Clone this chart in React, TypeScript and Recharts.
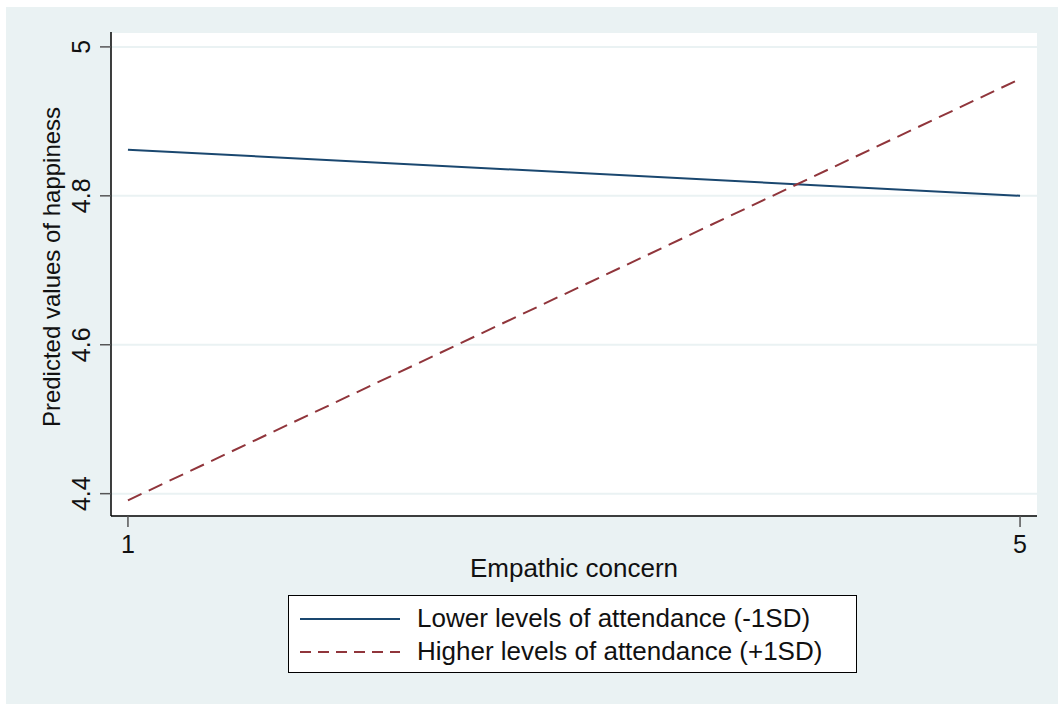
import React from "react";
import { LineChart, Line, XAxis, YAxis, CartesianGrid } from "recharts";

const empathicConcern = [1, 5];
const lowerAttendance = [4.862, 4.8];
const higherAttendance = [4.391, 4.957];
const xTicks = [1, 5];
const yTicks = [4.4, 4.6, 4.8, 5];

const seriesNames = ["Lower levels of attendance (-1SD)", "Higher levels of attendance (+1SD)"];

const NAVY = "#1a476f";
const MAROON = "#90353b";
const BG = "#eaf2f3";
const FONT = "'Liberation Sans', Arial, sans-serif";

const data = empathicConcern.map((x, i) => ({
  x,
  lower: lowerAttendance[i],
  higher: higherAttendance[i],
}));

function XTick(props: any) {
  const { x, y, payload } = props;
  return (
    <text x={x} y={y} dy={24} textAnchor="middle" fontSize={25} fill="#111" fontFamily={FONT}>
      {payload.value}
    </text>
  );
}

function YTick(props: any) {
  const { x, y, payload } = props;
  const bx = x - 8;
  return (
    <text
      x={bx}
      y={y}
      textAnchor="middle"
      fontSize={25}
      fill="#111"
      fontFamily={FONT}
      transform={`rotate(-90, ${bx}, ${y})`}
    >
      {payload.value}
    </text>
  );
}

function XTitle(props: any) {
  const vb = props.viewBox;
  return (
    <text x={vb.x + vb.width / 2} y={vb.y + 61} textAnchor="middle" fontSize={26} fill="#111" fontFamily={FONT}>
      Empathic concern
    </text>
  );
}

function YTitle(props: any) {
  const vb = props.viewBox;
  const cx = 60;
  const cy = vb.y + vb.height / 2 - 7;
  return (
    <text
      x={cx}
      y={cy}
      textAnchor="middle"
      fontSize={24}
      fill="#111"
      fontFamily={FONT}
      transform={`rotate(-90, ${cx}, ${cy})`}
    >
      Predicted values of happiness
    </text>
  );
}

function LegendBox() {
  const rows = [
    { name: seriesNames[0], color: NAVY, dash: undefined },
    { name: seriesNames[1], color: MAROON, dash: "11 7" },
  ];
  return (
    <div
      style={{
        position: "absolute",
        left: 288,
        top: 595,
        width: 569,
        height: 78,
        background: "#fff",
        border: "1px solid #000",
        fontFamily: FONT,
        fontSize: 26,
        color: "#111",
        boxSizing: "border-box",
        paddingTop: 6,
      }}
    >
      {rows.map((r) => (
        <div key={r.name} style={{ display: "flex", alignItems: "center", height: 33 }}>
          <svg width={128} height={20} style={{ flex: "none" }}>
            <line x1={11} x2={111} y1={10} y2={10} stroke={r.color} strokeWidth={2} strokeDasharray={r.dash} />
          </svg>
          <span style={{ whiteSpace: "nowrap" }}>{r.name}</span>
        </div>
      ))}
    </div>
  );
}

export default function App() {
  return (
    <div style={{ position: "absolute", left: 0, top: 0, width: 1058, height: 704, background: "#fff" }}>
      <div style={{ position: "absolute", left: 6, top: 7, width: 1052, height: 697, background: BG }} />
      <div style={{ position: "absolute", left: 0, top: 0 }}>
        <LineChart width={1058} height={704} data={data} margin={{ top: 32, right: 21, bottom: 0, left: 0 }}>
          <CartesianGrid vertical={false} stroke={BG} strokeWidth={2} fill="#fff" />
          <XAxis
            dataKey="x"
            type="number"
            domain={[0.924, 5.076]}
            ticks={xTicks}
            allowDataOverflow
            height={188}
            tickSize={11}
            tickLine={{ stroke: "#555", strokeWidth: 1.5 }}
            axisLine={{ stroke: "#000", strokeWidth: 1.5 }}
            tick={<XTick />}
            label={{ content: <XTitle /> }}
          />
          <YAxis
            type="number"
            domain={[4.37, 5.02]}
            ticks={yTicks}
            allowDataOverflow
            width={111}
            tickSize={11}
            tickLine={{ stroke: "#555", strokeWidth: 1.5 }}
            axisLine={{ stroke: "#000", strokeWidth: 1.5 }}
            tick={<YTick />}
            label={{ content: <YTitle /> }}
          />
          <Line
            dataKey="lower"
            stroke={NAVY}
            strokeWidth={2}
            dot={false}
            isAnimationActive={false}
          />
          <Line
            dataKey="higher"
            stroke={MAROON}
            strokeWidth={2}
            strokeDasharray="15 8"
            dot={false}
            isAnimationActive={false}
          />
        </LineChart>
      </div>
      <LegendBox />
    </div>
  );
}
